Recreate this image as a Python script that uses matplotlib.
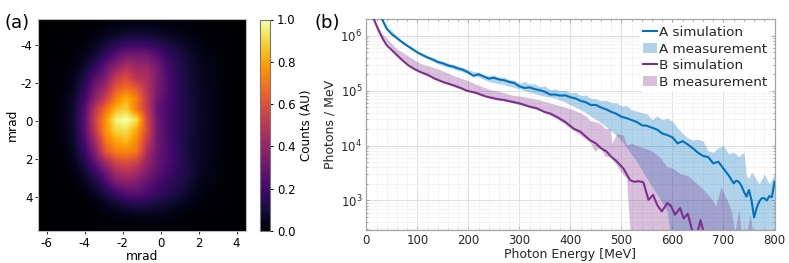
import numpy as np
import matplotlib
matplotlib.use('Agg')
import matplotlib.pyplot as plt
from matplotlib.patches import Patch
from matplotlib.lines import Line2D
from matplotlib.ticker import FixedLocator, LogLocator, NullFormatter

# beam profile (rows top to bottom)
profile = [
    [0, 0, 0, 0, .01, .01, .02, .03, .03, .04, .04, .03, .03, .02, .02, .01, .01, 0, 0, 0],
    [0, 0, 0, .01, .01, .03, .05, .07, .09, .09, .09, .08, .06, .05, .03, .02, .01, .01, 0, 0],
    [0, 0, .01, .01, .03, .06, .10, .15, .19, .20, .19, .16, .12, .09, .06, .04, .02, .01, .01, 0],
    [0, 0, .01, .02, .05, .09, .17, .26, .33, .33, .32, .25, .17, .12, .08, .05, .03, .02, .01, 0],
    [0, .01, .01, .03, .08, .16, .27, .38, .47, .42, .41, .32, .20, .14, .09, .06, .04, .02, .01, 0],
    [0, .01, .02, .05, .12, .25, .34, .52, .58, .48, .46, .33, .22, .15, .10, .06, .04, .02, .01, 0],
    [0, .01, .02, .06, .16, .32, .44, .62, .68, .62, .48, .33, .23, .15, .10, .07, .04, .03, .01, 0],
    [0, .01, .03, .08, .20, .38, .54, .72, .82, .72, .50, .31, .22, .15, .11, .07, .05, .03, .01, 0],
    [0, .01, .03, .09, .24, .50, .68, .84, .88, .70, .52, .28, .21, .15, .11, .07, .05, .03, .01, 0],
    [0, .01, .04, .10, .26, .55, .76, .96, 1.0, .92, .56, .30, .21, .15, .11, .08, .05, .03, .01, 0],
    [0, .01, .03, .09, .25, .52, .76, .90, .92, .80, .58, .31, .21, .15, .11, .07, .05, .03, .01, 0],
    [0, .01, .03, .08, .22, .44, .70, .80, .84, .74, .52, .31, .22, .15, .10, .07, .05, .03, .01, 0],
    [0, .01, .02, .07, .18, .36, .62, .72, .74, .70, .46, .30, .22, .16, .10, .07, .05, .03, .01, 0],
    [0, 0, .02, .05, .13, .27, .44, .56, .60, .55, .40, .29, .22, .16, .11, .07, .04, .02, .01, 0],
    [0, 0, .01, .03, .08, .17, .30, .44, .48, .44, .34, .26, .20, .14, .12, .06, .04, .02, .01, 0],
    [0, 0, .01, .02, .05, .10, .20, .32, .36, .34, .27, .21, .17, .13, .09, .05, .03, .02, .01, 0],
    [0, 0, 0, .01, .02, .06, .11, .18, .24, .25, .22, .18, .14, .11, .07, .04, .02, .01, 0, 0],
    [0, 0, 0, 0, .01, .02, .05, .08, .11, .13, .12, .10, .08, .06, .04, .02, .01, .01, 0, 0],
    [0, 0, 0, 0, 0, .01, .02, .03, .04, .05, .05, .05, .04, .03, .02, .01, .01, 0, 0, 0],
    [0, 0, 0, 0, 0, 0, .01, .01, .01, .01, .01, .01, .01, .01, .01, 0, 0, 0, 0, 0],
]

# spectra as log10(photons / MeV)
a_sim_e = [30, 40, 50, 60, 70, 80, 90, 100, 110, 120, 130, 140, 150, 160, 170, 180, 190, 200, 210, 220,
           230, 240, 250, 260, 270, 280, 290, 300, 310, 320, 330, 340, 350, 360, 370, 380, 390, 400, 410, 420,
           430, 440, 450, 460, 470, 480, 490, 500, 510, 520, 530, 540, 550, 560, 570, 580, 590, 600, 610, 620,
           630, 640, 650, 660, 670, 680, 690, 700, 710, 720, 725, 730, 735, 740, 745, 750, 755, 760, 765, 770,
           775, 780, 785, 790, 795, 800]
a_sim = [6.32, 6.13, 6.03, 5.96, 5.885, 5.82, 5.76, 5.70, 5.65, 5.605, 5.57, 5.525, 5.50, 5.46, 5.44, 5.405, 5.38, 5.33, 5.27, 5.30,
         5.26, 5.22, 5.235, 5.205, 5.19, 5.16, 5.14, 5.08, 5.05, 5.06, 5.03, 5.01, 4.98, 4.93, 4.93, 4.91, 4.915, 4.88, 4.86, 4.815,
         4.79, 4.74, 4.74, 4.695, 4.66, 4.615, 4.58, 4.525, 4.50, 4.465, 4.43, 4.37, 4.36, 4.325, 4.29, 4.22, 4.19, 4.15, 4.04, 4.08,
         4.02, 3.95, 3.87, 3.81, 3.79, 3.675, 3.705, 3.58, 3.46, 3.31, 3.36, 3.34, 3.27, 3.16, 3.07, 3.19, 3.00, 2.69, 2.86, 2.98,
         3.04, 3.04, 3.00, 3.08, 3.06, 3.34]
a_high_e = [30, 60, 100, 140, 180, 210, 220, 230, 240, 250, 260, 270, 280, 290, 300, 310, 320, 330, 340, 350, 360, 370, 380, 390, 400,
            410, 420, 430, 440, 450, 460, 470, 480, 490, 500, 510, 520, 530, 540, 550, 560, 570, 580, 590, 600, 610, 620,
            630, 640, 650, 660, 670, 680, 690, 700, 710, 720, 730, 740, 745, 750, 755, 760, 770, 780, 790, 800]
a_high = [6.32, 5.98, 5.72, 5.56, 5.45, 5.35, 5.34, 5.29, 5.27, 5.29, 5.24, 5.25, 5.20, 5.19, 5.13, 5.17, 5.12, 5.13, 5.07, 5.09, 5.02, 5.03, 5.00, 5.01, 4.96,
          4.97, 4.91, 4.92, 4.86, 4.85, 4.82, 4.83, 4.78, 4.78, 4.72, 4.73, 4.65, 4.63, 4.60, 4.58, 4.47, 4.54, 4.47, 4.50, 4.44, 4.32, 4.22,
          4.14, 4.10, 4.12, 4.08, 3.90, 3.88, 3.96, 4.00, 3.85, 3.88, 3.80, 3.88, 3.45, 3.40, 3.52, 3.45, 3.30, 3.48, 3.30, 3.48]
a_low_e = [30, 60, 100, 140, 180, 220, 242, 270, 308, 340, 373, 406, 432, 445, 458, 478, 497, 516, 530, 546, 562, 575, 590, 591, 800]
a_low = [6.32, 5.94, 5.68, 5.49, 5.37, 5.25, 5.16, 5.11, 5.01, 4.92, 4.86, 4.72, 4.59, 4.50, 4.43, 4.28, 4.13, 3.89, 3.71, 3.46, 3.22, 3.04, 2.80, 2.0, 2.0]

b_sim_e = [14, 24, 32, 40, 50, 60, 70, 82, 95, 105, 120, 134, 150, 170, 185, 197, 215, 236, 255, 270, 285, 300, 320, 334, 350, 360, 373,
           390, 406, 420, 438, 450, 460, 471, 480, 490, 504, 517, 525, 535, 543, 553, 562, 570, 579, 590, 597, 605, 615, 622, 630, 640, 650,
           655, 660, 670]
b_sim = [6.32, 6.10, 5.95, 5.83, 5.74, 5.65, 5.56, 5.465, 5.39, 5.345, 5.29, 5.22, 5.16, 5.10, 5.05, 5.0, 4.96, 4.89, 4.85, 4.83, 4.80, 4.77, 4.71, 4.68, 4.61, 4.585, 4.525,
         4.43, 4.31, 4.25, 4.10, 4.04, 3.95, 3.89, 3.795, 3.72, 3.58, 3.37, 3.34, 3.35, 3.33, 3.01, 3.10, 2.92, 2.80, 2.95, 2.90, 2.74, 2.86, 2.67, 2.76, 2.40, 2.45,
         2.64, 2.46, 2.30]
b_high_e = [14, 30, 60, 105, 140, 170, 200, 220, 242, 260, 280, 308, 325, 340, 355, 373, 390, 406, 419, 432, 438, 448, 458, 468, 478, 481, 491,
            504, 510, 520, 536, 550, 562, 576, 589, 602, 615, 630, 655, 675, 685, 695, 705, 716, 722, 730, 735, 745, 752, 760, 800]
b_high = [6.32, 6.05, 5.76, 5.50, 5.40, 5.28, 5.18, 5.10, 5.02, 4.99, 4.93, 4.89, 4.86, 4.83, 4.79, 4.74, 4.70, 4.65, 4.60, 4.53, 4.45, 4.44, 4.40, 4.31, 4.31, 4.04, 4.22,
          4.19, 4.01, 4.04, 3.98, 3.94, 3.89, 3.78, 3.62, 3.58, 3.49, 3.45, 3.25, 3.05, 2.90, 3.25, 3.05, 2.80, 2.40, 2.85, 2.40, 2.40, 2.75, 2.30, 2.30]
b_low_e = [14, 24, 40, 60, 105, 170, 236, 300, 340, 380, 400, 430, 438, 445, 455, 464, 471, 478, 504, 517, 519, 521, 523, 526, 800]
b_low = [6.32, 6.10, 5.83, 5.65, 5.33, 5.08, 4.88, 4.75, 4.64, 4.46, 4.32, 4.12, 4.07, 3.85, 4.00, 3.92, 3.71, 3.80, 3.46, 3.34, 2.0, 2.0, 2.90, 2.0, 2.0]

legend_labels = ['A simulation', 'A measurement', 'B simulation', 'B measurement']

W, H = 789, 263
blue = '#0072BD'
purple = '#7E2F8E'
edge = '#a6a6a6'
text = '#262626'

plt.rcParams['axes.unicode_minus'] = False
plt.rcParams['font.family'] = 'DejaVu Sans'
fig = plt.figure(figsize=(W / 100, H / 100), dpi=100)


def box(x0, y0, x1, y1):
    return [x0 / W, 1 - y1 / H, (x1 - x0) / W, (y1 - y0) / H]


# (a) heatmap
ax = fig.add_axes(box(38, 19, 246, 231))
im = ax.imshow(profile, cmap='inferno', vmin=0, vmax=1, extent=[-6.45, 4.5, 5.8, -5.4],
               aspect='auto', interpolation='bilinear')
ax.set_xticks([-6, -4, -2, 0, 2, 4])
ax.set_yticks([-4, -2, 0, 2, 4])
ax.tick_params(labelsize=8.5, length=2.5, width=0.7, pad=1.5, color=text)
ax.set_xlabel('mrad', fontsize=8.8, labelpad=0)
ax.set_ylabel('mrad', fontsize=8.8, labelpad=1)
for s in ax.spines.values():
    s.set_color('#bbbbbb')
    s.set_linewidth(0.8)

cax = fig.add_axes(box(259.5, 19.5, 270, 231))
cb = fig.colorbar(im, cax=cax)
cb.set_ticks([0, .2, .4, .6, .8, 1])
cb.ax.tick_params(labelsize=8.5, length=2.5, width=0.7, pad=2.5)
cb.set_label('Counts (AU)', fontsize=8.6, labelpad=3)
cb.outline.set_edgecolor('#777777')
cb.outline.set_linewidth(0.8)

fig.text(5 / W, 1 - 23 / H, '(a)', fontsize=13, va='center')
fig.text(314 / W, 1 - 23 / H, '(b)', fontsize=13, va='center')

# (b) spectra
bx = fig.add_axes(box(366.3, 18.5, 774.5, 229.5))
bx.set_yscale('log')
bx.fill_between(a_high_e, 10 ** np.array(a_high), 10 ** np.interp(a_high_e, a_low_e, a_low),
                color=blue, alpha=0.3, lw=0, zorder=2)
bx.fill_between(b_high_e, 10 ** np.array(b_high), 10 ** np.interp(b_high_e, b_low_e, b_low),
                color=purple, alpha=0.3, lw=0, zorder=2)
bx.plot(a_sim_e, 10 ** np.array(a_sim), color=blue, lw=1.5, zorder=3)
bx.plot(b_sim_e, 10 ** np.array(b_sim), color=purple, lw=1.5, zorder=3)
bx.set_xlim(0, 800)
bx.set_ylim(295, 2.07e6)
bx.set_xticks([0, 100, 200, 300, 400, 500, 600, 700, 800])
bx.xaxis.set_minor_locator(FixedLocator(np.arange(0, 801, 20)))
bx.set_yticks([1e3, 1e4, 1e5, 1e6])
bx.yaxis.set_minor_locator(LogLocator(base=10, subs=np.arange(2, 10), numticks=12))
bx.yaxis.set_minor_formatter(NullFormatter())
bx.grid(True, which='major', color='#e0e0e0', lw=0.8, zorder=0)
bx.grid(True, which='minor', color='#f3f3f3', lw=0.6, zorder=0)
bx.set_axisbelow(True)
bx.tick_params(which='both', direction='in', top=True, right=True, color='#999999', width=0.6, length=2.5)
bx.tick_params(which='major', labelsize=8.5, labelcolor=text, pad=3)
bx.tick_params(which='minor', length=1.5)
bx.set_xlabel('Photon Energy [MeV]', fontsize=9, color=text, labelpad=1)
bx.set_ylabel('Photons / MeV', fontsize=9, color=text, labelpad=3)
for s in bx.spines.values():
    s.set_color(edge)
    s.set_linewidth(0.9)

handles = [Line2D([], [], color=blue, lw=1.5), Patch(color=blue, alpha=0.3, lw=0),
           Line2D([], [], color=purple, lw=1.5), Patch(color=purple, alpha=0.3, lw=0)]
leg = bx.legend(handles, legend_labels, loc='upper right', fontsize=9.7, frameon=True, framealpha=1,
                edgecolor='none', handlelength=1.0, handletextpad=0.15, labelspacing=0.27,
                borderpad=0.25, borderaxespad=0.3, labelcolor=text)
leg.set_zorder(5)

fig.savefig('out.png', dpi=100)
